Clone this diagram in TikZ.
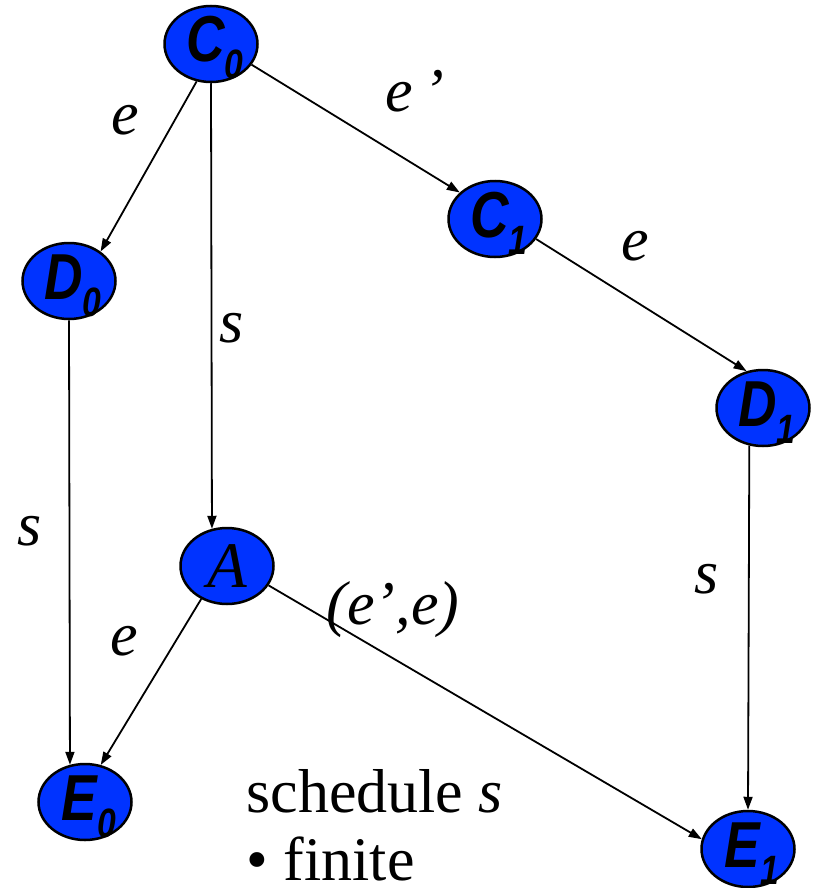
\documentclass[tikz,border=0pt]{standalone}
\usepackage{fontspec}
\setmainfont{Liberation Serif}
\setsansfont{Liberation Sans}
\usepackage{tikz}
\usetikzlibrary{arrows.meta,shapes.geometric}
\definecolor{stateblue}{RGB}{0,51,255}
\newcommand{\statelabel}[2]{\raisebox{-18pt}[0pt][0pt]{\hspace{8pt}\scalebox{0.82}[1]{\sffamily\bfseries\itshape #1\raisebox{-17pt}{\fontsize{41}{41}\selectfont #2}}}}

\begin{document}
\begin{tikzpicture}[x=1pt, y=-1pt, >={Triangle[length=13pt,width=9pt]},
    state/.style={ellipse, draw, line width=2.5pt, fill=stateblue,
        minimum width=93pt, minimum height=76pt, inner sep=0pt,
        font=\fontsize{65}{70}\selectfont},
    edge/.style={->, line width=1.8pt},
    lab/.style={anchor=base, font=\fontsize{62}{70}\selectfont\itshape}]
    \useasboundingbox (0,0) rectangle (820,888);

    % 状态
    \node[state] (C0) at (211, 44) {\statelabel{C}{0}};
    \node[state] (D0) at (69, 281) {\statelabel{D}{0}};
    \node[state] (C1) at (495, 219) {\statelabel{C}{1}};
    \node[state] (D1) at (763, 408) {\statelabel{D}{1}};
    \node[state] (A) at (227, 566) {\raisebox{-21pt}[0pt][0pt]{\itshape A}};
    \node[state] (E0) at (85, 802) {\statelabel{E}{0}};
    \node[state] (E1) at (748, 849) {\statelabel{E}{1}};

    % 转移
    \draw[edge] (C0.249) -- (D0.43);
    \draw[edge] (C0.south) -- (A.112);
    \draw[edge] (C0.333) -- (C1.143);
    \draw[edge] (C1.334) -- (D1.114);
    \draw[edge] (D0.south) -- (E0.112);
    \draw[edge] (A.232) -- (E0.67);
    \draw[edge] (A.335) -- (E1.168);
    \draw[edge] (D1.250) -- (E1.north);

    % 转移标注
    \node[lab] (lab-C0D0) at (125, 135) {e};
    \node[lab] (lab-C0C1) at (415, 112) {e\,’};
    \node[lab] (lab-C1D1) at (635, 260) {e};
    \node[lab] (lab-C0A) at (232, 342) {s};
    \node[lab] (lab-D0E0) at (30, 545) {s};
    \node[lab] (lab-D1E1) at (707, 593) {s};
    \node[lab] (lab-AE0) at (124, 655) {e};
    \node[lab] (lab-AE1) at (393, 624) {(e’,e)};

    % 说明文字
    \node[anchor=base west, font=\fontsize{62}{70}\selectfont] (sched) at (243, 812) {schedule \textit{s}};
    \node[anchor=base west, font=\fontsize{62}{70}\selectfont] (finite) at (243, 880) {• finite};
\end{tikzpicture}
\end{document}
